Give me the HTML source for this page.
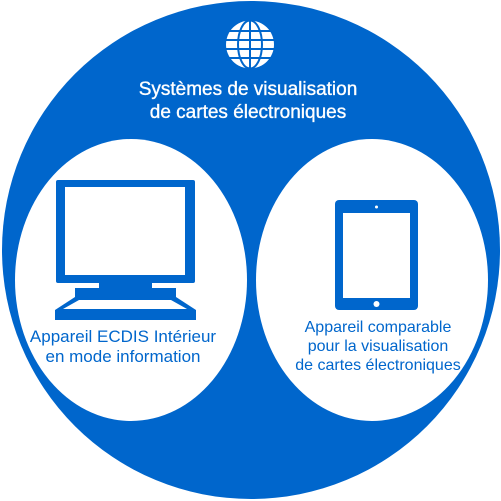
<!DOCTYPE html>
<html><head><meta charset="utf-8"><style>
html,body{margin:0;padding:0;background:#fff;}
svg{display:block;}
text{font-family:"Liberation Sans",Arial,sans-serif;}
</style></head><body>
<svg width="501" height="501" viewBox="0 0 501 501" xmlns="http://www.w3.org/2000/svg">
<circle cx="251" cy="250" r="249" fill="#0066cc"/>
<ellipse cx="131" cy="280" rx="116" ry="141" fill="#fff"/>
<ellipse cx="372" cy="280" rx="116" ry="141" fill="#fff"/>
<!-- globe -->
<circle cx="250" cy="44.5" r="24" fill="#fff"/>
<g stroke="#0066cc" stroke-width="2" fill="none">
<ellipse cx="250" cy="44.5" rx="12" ry="24"/>
<line x1="250" y1="20" x2="250" y2="69"/>
<line x1="226" y1="31" x2="274" y2="31"/>
<line x1="226" y1="40" x2="274" y2="40"/>
<line x1="226" y1="49" x2="274" y2="49"/>
<line x1="226" y1="58" x2="274" y2="58"/>
</g>
<text x="248" y="95" font-size="19" fill="#fff" stroke="#fff" stroke-width="0.35" text-anchor="middle">Systèmes de visualisation</text>
<text x="248" y="118" font-size="19" fill="#fff" stroke="#fff" stroke-width="0.35" text-anchor="middle">de cartes électroniques</text>
<!-- monitor -->
<rect x="56" y="180" width="139" height="103" rx="2" fill="#0066cc"/>
<rect x="65" y="187" width="120" height="88" fill="#fff"/>
<rect x="99" y="282" width="53" height="7" fill="#0066cc"/>
<rect x="75" y="288" width="101" height="10" fill="#0066cc"/>
<polygon points="75,297 176,297 196,310 196,320 55,320 55,310" fill="#0066cc"/>
<polygon points="79,300 171,300 187,309 63,309" fill="#fff"/>
<!-- tablet -->
<rect x="335" y="200" width="83" height="110" rx="4" fill="#0066cc"/>
<rect x="343" y="213" width="67" height="85" fill="#fff"/>
<circle cx="376.5" cy="207" r="1.5" fill="#fff"/>
<circle cx="376.5" cy="304" r="3" fill="#fff"/>
<text x="123" y="342" font-size="17" fill="#0066cc" text-anchor="middle">Appareil ECDIS Intérieur</text>
<text x="123" y="362" font-size="17" fill="#0066cc" text-anchor="middle">en mode information</text>
<text x="378" y="332" font-size="16" fill="#0066cc" text-anchor="middle">Appareil comparable</text>
<text x="378" y="351" font-size="16" fill="#0066cc" text-anchor="middle">pour la visualisation</text>
<text x="378" y="370" font-size="16" fill="#0066cc" text-anchor="middle">de cartes électroniques</text>
</svg>
</body></html>
